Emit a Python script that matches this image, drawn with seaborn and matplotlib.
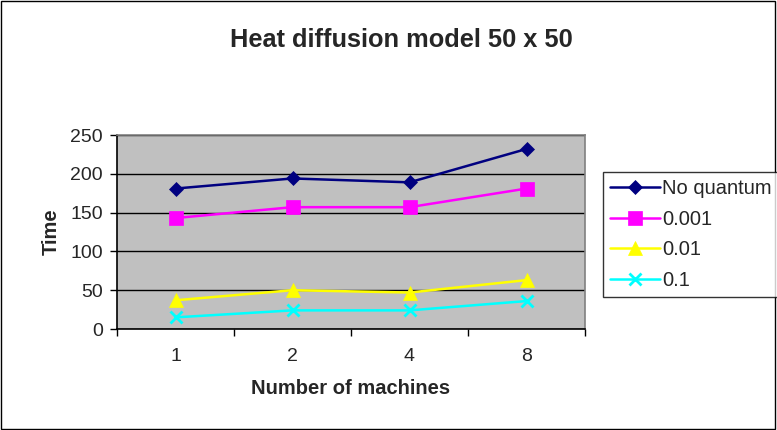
import matplotlib
matplotlib.use("Agg")
import matplotlib.pyplot as plt
import seaborn as sns
import pandas as pd
from matplotlib.patches import Rectangle

machines = ["1", "2", "4", "8"]
no_quantum = [181, 194, 189, 232]
q_0001 = [143, 157, 157, 181]
q_001 = [37, 50, 47, 63]
q_01 = [15, 24, 24, 36]
series_names = ["No quantum", "0.001", "0.01", "0.1"]

sns.set_theme(style="white")
plt.rcParams['font.family'] = ['Liberation Sans', 'DejaVu Sans']

rows = []
for name, vals in zip(series_names, [no_quantum, q_0001, q_001, q_01]):
    for i, (m, v) in enumerate(zip(machines, vals)):
        rows.append({"idx": i, "machines": m, "time": v, "series": name})
df = pd.DataFrame(rows)

fig = plt.figure(figsize=(7.77, 4.30), dpi=100)
ax = fig.add_axes([117/777, 1-329/430, 468/777, 194/430])
ax.set_facecolor("#C0C0C0")

colors = {"No quantum": "#000080", "0.001": "#FF00FF", "0.01": "#FFFF00", "0.1": "#00FFFF"}
markers = {"No quantum": "D", "0.001": "s", "0.01": "^", "0.1": "x"}
sizes = {"No quantum": 7.5, "0.001": 9.5, "0.01": 9.5, "0.1": 9}
for name in series_names:
    sub = df[df.series == name]
    sns.lineplot(data=sub, x="idx", y="time", ax=ax, color=colors[name],
                 marker=markers[name], markersize=sizes[name], linewidth=1.8,
                 markeredgecolor=colors[name], markeredgewidth=2 if name == "0.1" else 0.5,
                 label=name, legend=False)

ax.set_xlim(-0.5, 3.5)
ax.set_ylim(0, 250)
ax.set_yticks([0, 50, 100, 150, 200, 250])
ax.yaxis.grid(True, color="black", linewidth=1)
ax.set_axisbelow(True)
ax.set_xticks([-0.5, 0.5, 1.5, 2.5, 3.5])
ax.set_xticklabels([])
ax.set_xticks([0, 1, 2, 3], minor=True)
ax.set_xticklabels(machines, minor=True)
ax.tick_params(axis="x", which="major", direction="out", length=5, width=1, color="black", bottom=True)
ax.tick_params(axis="x", which="minor", length=0, pad=14, labelsize=14)
ax.tick_params(axis="y", direction="out", length=5, width=1, color="black", left=True, labelsize=14, pad=5)
for s in ax.spines.values():
    s.set_color("#808080")
    s.set_linewidth(1.2)
ax.spines["left"].set_color("black")
ax.spines["bottom"].set_color("black")

ax.set_xlabel("Number of machines", fontsize=14.5, fontweight="bold", labelpad=10)
ax.set_ylabel("Time", fontsize=14.5, fontweight="bold", labelpad=7)
fig.text(401/777, 1-40/430, "Heat diffusion model 50 x 50", ha="center", va="center",
         fontsize=18.3, fontweight="bold")

handles, labels = ax.get_legend_handles_labels()
leg = fig.legend(handles, labels, loc="upper left", bbox_to_anchor=(603/777, 1-172/430),
                 frameon=True, fancybox=False, edgecolor="black", fontsize=14.5,
                 handlelength=2.5, handletextpad=0.1, borderpad=0.35, labelspacing=0.58,
                 borderaxespad=0)
leg.get_frame().set_linewidth(1)

fig.patches.append(Rectangle((0.001, 0.003), 0.997, 0.995, transform=fig.transFigure,
                             fill=False, edgecolor="black", linewidth=1))
fig.savefig("out.png", dpi=100)
